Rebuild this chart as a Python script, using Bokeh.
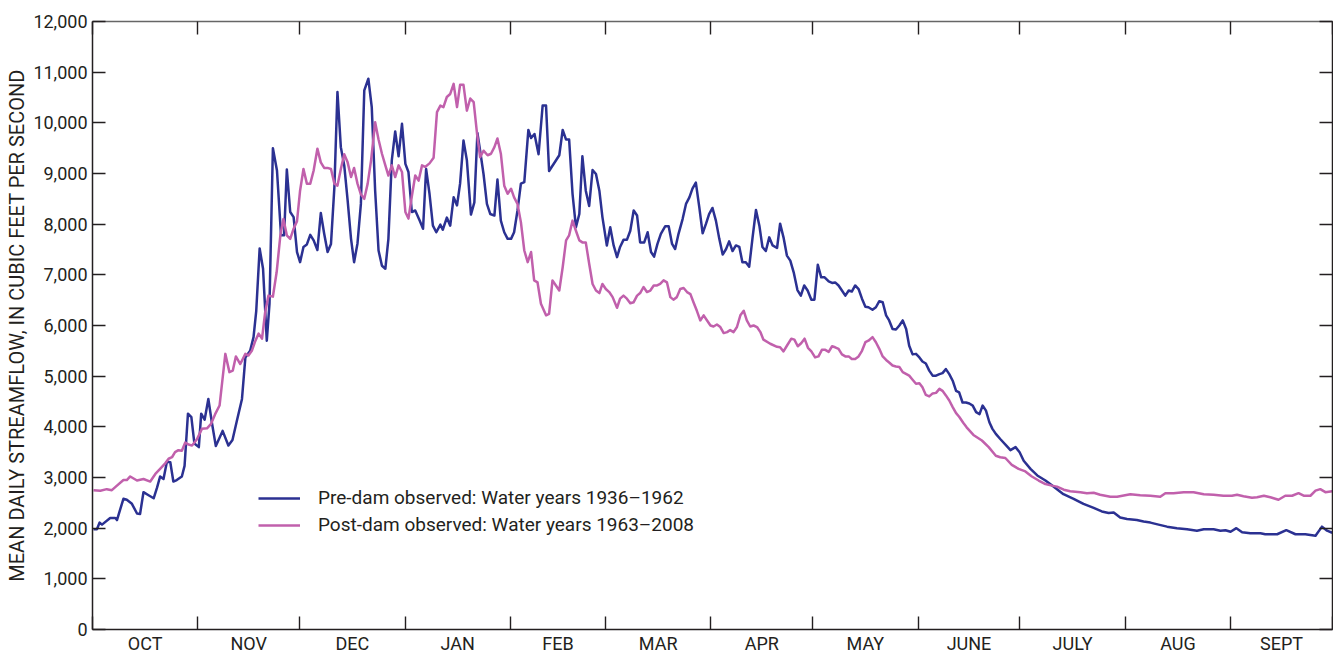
from bokeh.plotting import figure
from bokeh.models import (FixedTicker, NumeralTickFormatter, LinearAxis, Range1d,
                          Legend, LegendItem, CustomJSTickFormatter)
from bokeh.embed import file_html
from bokeh.resources import INLINE

# ---------------- data ----------------
month_names = ["OCT", "NOV", "DEC", "JAN", "FEB", "MAR", "APR", "MAY",
               "JUNE", "JULY", "AUG", "SEPT"]
month_lengths = [31, 30, 31, 31, 28, 31, 30, 31, 30, 31, 31, 30]
y_ticks = [0, 1000, 2000, 3000, 4000, 5000, 6000, 7000, 8000, 9000, 10000, 11000, 12000]

pre_label = "Pre-dam observed: Water years 1936\u20131962"
post_label = "Post-dam observed: Water years 1963\u20132008"

# day of water year (from Oct 1) and mean daily streamflow, cfs
pre_day = [0.3, 1.3, 2.1, 2.8, 5.2, 6.7, 7.2, 9.1, 10.1, 11.6, 13.1, 14.0, 15.0, 16.5, 18.0, 19.0,
           19.9, 20.9, 21.9, 22.9, 23.8, 24.8, 26.3, 27.1, 28.1, 29.1, 30.0, 31.3, 32.0, 33.0, 34.1,
           35.1, 36.3, 38.3, 40.0, 41.2, 42.5, 44.0, 45.0, 46.4, 47.4, 48.2, 49.2, 50.2, 51.3, 52.1,
           53.1, 54.3, 55.5, 56.4, 57.2, 58.2, 59.2, 60.2, 61.1, 62.1, 63.1, 64.1, 65.1, 66.2, 67.2,
           68.2, 69.2, 70.2, 71.2, 72.1, 73.1, 74.1, 75.1, 76.1, 77.0, 78.0, 79.0, 80.0, 81.2, 82.2,
           83.2, 84.2, 85.2, 86.2, 87.1, 88.1, 89.1, 90.1, 91.1, 92.1, 93.0, 94.0, 95.0, 96.3, 97.3,
           98.2, 99.2, 100.2, 101.2, 102.4, 103.1, 104.3, 105.3, 106.3, 107.3, 108.2, 109.2, 110.2,
           111.4, 112.4, 113.3, 114.1, 115.1, 116.1, 117.1, 118.3, 119.2, 120.2, 121.2, 122.2, 123.2,
           124.1, 125.1, 126.1, 127.1, 128.3, 129.1, 130.1, 131.3, 132.5, 133.5, 134.4, 137.4, 138.4,
           139.4, 140.3, 141.3, 142.3, 143.3, 144.2, 145.2, 146.2, 147.2, 148.2, 149.2, 150.1, 151.4,
           152.4, 153.4, 154.4, 155.3, 156.3, 157.3, 158.3, 159.3, 160.3, 161.2, 162.4, 163.4, 164.4,
           165.3, 166.3, 167.3, 168.6, 169.6, 170.6, 171.5, 172.5, 173.7, 174.7, 175.7, 176.6, 177.6,
           178.6, 179.6, 180.6, 181.5, 182.5, 183.5, 184.5, 185.5, 186.5, 187.4, 188.4, 189.4, 190.4,
           191.3, 192.3, 193.3, 194.3, 195.3, 196.3, 197.2, 198.2, 199.2, 200.2, 201.5, 202.4, 203.4,
           204.4, 205.4, 206.4, 207.5, 208.5, 209.5, 210.5, 211.6, 212.5, 213.5, 214.5, 215.5, 216.7,
           217.7, 218.6, 219.6, 220.6, 221.6, 222.6, 223.5, 224.5, 225.5, 226.5, 227.5, 228.4, 229.6,
           230.6, 231.6, 232.6, 233.6, 234.5, 235.5, 236.5, 237.5, 238.5, 239.5, 240.4, 241.4, 242.4,
           243.4, 244.3, 245.3, 246.3, 247.3, 248.3, 249.3, 250.2, 251.2, 252.2, 253.2, 254.2, 255.1,
           256.1, 257.1, 258.1, 259.1, 260.1, 261.1, 262.0, 263.0, 264.0, 264.9, 265.9, 267.2, 269.0,
           270.2, 271.7, 272.9, 274.1, 276.1, 278.1, 280.5, 281.9, 283.9, 285.8, 288.8, 291.7, 294.7,
           297.1, 299.1, 300.6, 302.5, 304.5, 307.4, 309.4, 311.4, 313.8, 316.3, 319.2, 322.2, 325.1,
           327.1, 330.0, 332.0, 333.5, 335.0, 336.7, 338.4, 340.8, 343.8, 345.2, 348.7, 351.4, 354.1,
           357.0, 360.0, 361.9, 363.4, 364.9]
pre_flow = [1980, 1980, 2110, 2070, 2200, 2200, 2160, 2580, 2560, 2480, 2290, 2280, 2710, 2650, 2590, 2800,
            3020, 2970, 3310, 3300, 2920, 2950, 3020, 3230, 4260, 4190, 3670, 3600, 4260, 4140, 4550,
            4100, 3620, 3920, 3630, 3740, 4120, 4550, 5370, 5500, 5770, 6290, 7520, 7120, 5700, 6430,
            9500, 9060, 7780, 7780, 9080, 8240, 8140, 7450, 7250, 7550, 7600, 7790, 7680, 7490, 8220,
            7810, 7450, 7610, 8730, 10610, 9520, 9160, 8470, 7710, 7250, 7620, 8400, 10640, 10870, 10310,
            8660, 7480, 7180, 7120, 7710, 9260, 9830, 9340, 9980, 9190, 9030, 8240, 8270, 8070, 7910,
            9090, 8600, 7970, 7840, 7990, 7890, 8130, 7970, 8530, 8370, 8800, 9650, 9260,
            8190, 8430, 9800, 9450, 8990, 8400, 8200, 8170, 8880, 8070, 7840, 7710, 7710,
            7840, 8270, 8800, 8830, 9860, 9700, 9780, 9380, 10340, 10340, 9050, 9360, 9860,
            9670, 9670, 8600, 7940, 8200, 9340, 8660, 8360, 9070, 8990, 8660, 8140, 7580,
            7940, 7580, 7350, 7550, 7690, 7690, 7870, 8270, 8170, 7640, 7640, 7840, 7450,
            7360, 7610, 7810, 7960, 7960, 7610, 7510, 7810, 8100, 8400, 8530, 8700, 8820,
            8340, 7820, 8010, 8200, 8320, 8070, 7710, 7400, 7510, 7660, 7470, 7580, 7550,
            7250, 7250, 7160, 7740, 8280, 7970, 7550, 7470, 7740, 7580, 7530, 8010, 7740,
            7380, 7280, 7050, 6700, 6590, 6790, 6690, 6510, 6510, 7200, 6950, 6950, 6870,
            6840, 6850, 6790, 6690, 6590, 6690, 6670, 6790, 6720, 6530, 6370, 6360, 6310,
            6360, 6480, 6460, 6200, 6100, 5930, 5920, 6000, 6100, 5930, 5600, 5430, 5440,
            5370, 5290, 5250, 5110, 5010, 5010, 5040, 5060, 5140, 5040, 4910, 4710, 4680,
            4480, 4480, 4460, 4420, 4290, 4250, 4420, 4320, 4090, 3960, 3860, 3760, 3630,
            3540, 3600, 3500, 3330, 3170, 3040, 2940, 2870, 2770, 2670, 2580, 2480, 2400,
            2330, 2300, 2310, 2210, 2180, 2160, 2130, 2110, 2070, 2030, 2000, 1980, 1950,
            1980, 1980, 1950, 1960, 1930, 2000, 1920, 1900, 1900, 1880, 1880, 1960, 1880,
            1880, 1850, 2030, 1950, 1910]

post_day = [0.3, 2.3, 4.2, 5.7, 7.2, 9.1, 10.1, 11.1, 13.1, 15.0, 17.0, 18.5, 19.9, 21.4, 22.4, 23.4,
            24.3, 25.3, 26.3, 27.3, 28.3, 29.3, 30.7, 32.2, 33.7, 34.9, 36.1, 37.4, 39.1, 40.3, 41.3,
            42.2, 43.5, 45.0, 45.9, 46.9, 47.9, 48.9, 49.9, 50.8, 51.8, 53.1, 54.2, 55.3, 56.2, 57.2,
            58.2, 59.2, 60.2, 61.1, 62.1, 63.1, 64.1, 65.1, 66.2, 67.2, 68.2, 69.2, 70.2, 71.2, 72.1,
            73.1, 74.1, 75.1, 76.1, 77.0, 78.0, 79.0, 80.0, 81.0, 82.0, 83.2, 84.2, 85.2, 86.2, 87.1,
            88.1, 89.1, 90.1, 91.1, 92.1, 93.0, 94.0, 95.0, 96.0, 97.0, 97.9, 99.2, 100.4, 101.4, 102.4,
            103.3, 104.3, 105.3, 106.3, 107.3, 108.2, 109.2, 110.2, 111.2, 112.2, 113.2, 114.1, 115.1,
            116.3, 117.3, 118.3, 119.2, 120.2, 121.2, 122.2, 123.2, 124.1, 125.1, 126.1, 127.1, 128.1,
            129.1, 130.0, 131.0, 132.0, 133.5, 134.4, 135.4, 136.4, 137.4, 138.4, 139.4, 140.3, 141.3,
            142.3, 143.3, 144.2, 145.2, 146.2, 147.2, 148.2, 149.2, 150.1, 151.1, 152.1, 153.1, 154.4,
            155.3, 156.3, 157.3, 158.3, 159.3, 160.3, 161.2, 162.2, 163.2, 164.2, 165.2, 166.2, 167.1,
            168.1, 169.1, 170.1, 171.0, 172.0, 173.0, 174.0, 175.0, 176.0, 176.9, 177.9, 178.9, 179.9,
            180.9, 181.9, 182.8, 183.8, 184.8, 185.8, 186.8, 187.7, 188.7, 189.7, 190.7, 191.7, 192.6,
            193.6, 194.6, 195.6, 196.6, 197.5, 199.5, 201.5, 202.4, 203.4, 204.4, 205.7, 206.6, 207.6,
            208.6, 209.6, 210.6, 211.6, 212.7, 213.7, 214.7, 215.7, 216.7, 217.7, 218.6, 219.6, 220.6,
            221.6, 222.6, 223.5, 224.5, 225.5, 226.5, 227.5, 228.4, 229.6, 230.6, 231.6, 232.6, 233.6,
            234.5, 235.5, 236.5, 237.5, 238.5, 240.4, 241.4, 242.4, 243.4, 244.3, 245.3, 246.3, 247.3,
            248.3, 249.3, 250.2, 251.2, 252.2, 253.2, 254.2, 255.1, 256.3, 257.3, 259.3, 261.8, 263.8,
            265.9, 267.2, 268.7, 270.6, 272.6, 274.6, 276.5, 278.5, 280.5, 282.4, 283.9, 285.9, 287.8,
            290.8, 292.7, 294.7, 296.6, 299.6, 301.6, 305.5, 308.4, 311.4, 314.3, 315.8, 318.2, 321.2,
            324.1, 327.1, 330.0, 332.9, 335.4, 336.9, 338.8, 341.3, 342.8, 344.8, 346.7, 349.1, 351.1,
            353.1, 355.0, 356.5, 358.5, 360.0, 361.4, 362.9, 364.9]
post_flow = [2750, 2740, 2770, 2750, 2840, 2950, 2950, 3020, 2940, 2970, 2920, 3070, 3170, 3280, 3370, 3400,
             3500, 3540, 3530, 3690, 3650, 3630, 3750, 3960, 3970, 4060, 4250, 4420, 5440, 5080, 5110,
             5390, 5240, 5440, 5410, 5500, 5690, 5840, 5740, 6250, 6590, 6570, 7050, 7780, 8100, 7780,
             7710, 7910, 8060, 8660, 9090, 8800, 8800, 9060, 9490, 9220, 9110, 9110, 9090, 8800, 8760,
             9090, 9380, 9220, 8930, 9110, 8800, 8590, 8500, 8800, 9260, 10010, 9670, 9390, 9160, 8960,
             9160, 8930, 9160, 9030, 8240, 8110, 8550, 8960, 8860, 9160, 9130, 9200, 9310, 10210, 10340,
             10310, 10510, 10570, 10770, 10310, 10750, 10750, 10240, 10480, 10410, 9780, 9320, 9450,
             9360, 9390, 9520, 9690, 9390, 8760, 8600, 8700, 8530, 8400, 8040, 7480, 7250,
             7450, 6890, 6850, 6430, 6200, 6230, 6890, 6790, 6690, 7150, 7680, 7780, 8070,
             7870, 7680, 7640, 7640, 7220, 6820, 6690, 6640, 6820, 6720, 6660, 6560, 6350,
             6530, 6590, 6530, 6440, 6460, 6590, 6640, 6760, 6660, 6690, 6790, 6790, 6820,
             6890, 6850, 6560, 6510, 6560, 6720, 6740, 6660, 6620, 6460, 6290, 6100, 6200,
             6100, 6000, 5980, 6020, 5970, 5850, 5870, 5910, 5870, 5970, 6200, 6290, 6100,
             5980, 6000, 5970, 5870, 5720, 5640, 5580, 5570, 5490, 5600, 5740, 5720, 5590,
             5650, 5740, 5560, 5490, 5370, 5390, 5520, 5520, 5480, 5590, 5570, 5540, 5430,
             5390, 5390, 5340, 5340, 5390, 5500, 5670, 5700, 5770, 5670, 5540, 5390, 5320,
             5270, 5210, 5190, 5180, 5080, 5010, 4930, 4850, 4860, 4780, 4630, 4600, 4660,
             4670, 4750, 4710, 4620, 4520, 4390, 4270, 4200, 4080, 3990, 3840, 3730, 3600,
             3430, 3400, 3385, 3250, 3170, 3120, 3020, 2940, 2870, 2840, 2820, 2760, 2730,
             2710, 2690, 2700, 2660, 2620, 2620, 2670, 2650, 2640, 2620, 2690, 2690, 2710,
             2710, 2670, 2660, 2640, 2640, 2660, 2630, 2600, 2610, 2640, 2610, 2560, 2640,
             2640, 2690, 2640, 2640, 2740, 2770, 2710, 2730]

# ---------------- derived tick positions ----------------
month_starts = [0]
for n in month_lengths:
    month_starts.append(month_starts[-1] + n)
month_mids = [(month_starts[i] + month_starts[i + 1]) / 2 for i in range(12)]

FONT = "Roboto"
INK = "#231f20"
BLUE = "#2b3192"
PINK = "#c160ac"
blank = CustomJSTickFormatter(code="return ''")

p = figure(width=1333, height=656,
           x_range=Range1d(0, 365), y_range=Range1d(0, 12000),
           output_backend="svg", toolbar_location=None,
           min_border_left=92, min_border_right=1, min_border_top=21, min_border_bottom=27)
p.outline_line_color = None
p.xgrid.visible = False
p.ygrid.visible = False
p.background_fill_color = "white"

r_pre = p.line(pre_day, pre_flow, line_color=BLUE, line_width=2.5, line_join="round")
r_post = p.line(post_day, post_flow, line_color=PINK, line_width=2.5, line_join="round")

# bottom axis: month names centered, boundary ticks inward
xa = p.xaxis[0]
xa.ticker = FixedTicker(ticks=month_mids, minor_ticks=month_starts)
xa.major_label_overrides = {m: name for m, name in zip(month_mids, month_names)}
xa.major_tick_in = 0
xa.major_tick_out = 0
xa.minor_tick_in = 13
xa.minor_tick_out = 0
xa.minor_tick_line_color = INK
xa.minor_tick_line_width = 1.4
xa.axis_line_color = INK
xa.axis_line_width = 1.5
xa.major_label_standoff = 3
xa.major_label_text_font = FONT
xa.major_label_text_font_size = "18px"
xa.major_label_text_color = INK

# left axis
ya = p.yaxis[0]
ya.ticker = FixedTicker(ticks=y_ticks, minor_ticks=[])
ya.formatter = NumeralTickFormatter(format="0,0")
ya.major_tick_in = 13
ya.major_tick_out = 0
ya.minor_tick_in = 0
ya.minor_tick_out = 0
ya.major_tick_line_color = INK
ya.major_tick_line_width = 1.4
ya.axis_line_color = INK
ya.axis_line_width = 1.5
ya.major_label_standoff = 5
ya.major_label_text_font = FONT
ya.major_label_text_font_size = "18px"
ya.major_label_text_color = INK
ya.axis_label = "MEAN DAILY STREAMFLOW, IN CUBIC FEET PER SECOND"
ya.axis_label_text_font = FONT
ya.axis_label_text_font_style = "normal"
ya.axis_label_text_font_size = "20px"
ya.axis_label_text_color = INK
ya.axis_label_standoff = 1

# right axis (ticks only)
ra = LinearAxis(ticker=FixedTicker(ticks=y_ticks, minor_ticks=[]), formatter=blank,
                major_tick_in=13, major_tick_out=0, minor_tick_in=0, minor_tick_out=0,
                major_tick_line_color=INK, major_tick_line_width=1.4,
                axis_line_color=INK, axis_line_width=1.5,
                major_label_text_font_size="1px", major_label_standoff=0)
p.add_layout(ra, "right")

# top axis (ticks only)
ta = LinearAxis(ticker=FixedTicker(ticks=month_starts, minor_ticks=[]), formatter=blank,
                major_tick_in=13, major_tick_out=0, minor_tick_in=0, minor_tick_out=0,
                major_tick_line_color=INK, major_tick_line_width=1.4,
                axis_line_color="#666666", axis_line_width=1.5,
                major_label_text_font_size="1px", major_label_standoff=0)
p.add_layout(ta, "above")

legend = Legend(items=[LegendItem(label=pre_label, renderers=[r_pre]),
                       LegendItem(label=post_label, renderers=[r_post])],
                location=(166, 93), orientation="vertical",
                glyph_width=42, glyph_height=20, label_height=20, label_standoff=18,
                spacing=4, padding=0, margin=0,
                border_line_alpha=0, background_fill_alpha=0,
                label_text_font=FONT, label_text_font_size="19px", label_text_color=INK)
p.add_layout(legend)

open("out.html", "w").write(file_html(p, INLINE))
